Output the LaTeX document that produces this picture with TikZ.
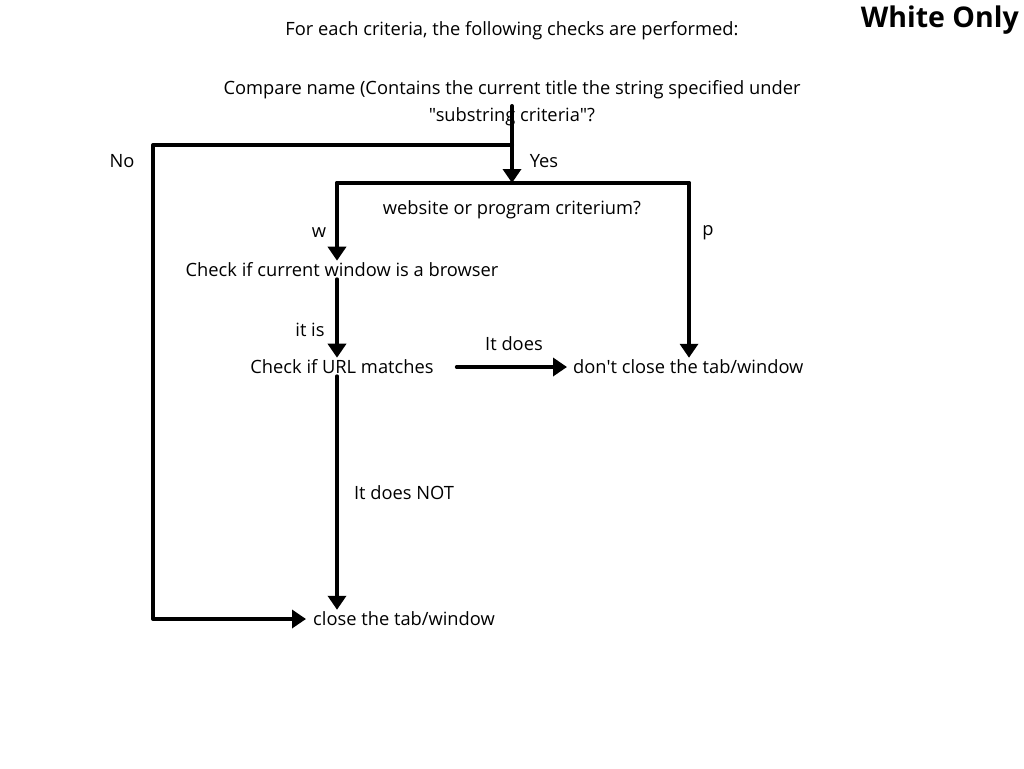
\documentclass[tikz,border=0pt]{standalone}
\usepackage{fontspec}
\setmainfont{Open Sans}[Ligatures=TeXOff]
\usetikzlibrary{arrows.meta,positioning,calc}

\tikzset{
  txt/.style={inner sep=2pt, yshift=-2pt, font=\fontsize{18.3}{21}\selectfont},
  flow/.style={line width=4pt, line cap=round, line join=round},
  arr/.style={flow, -{Triangle[length=14pt,width=18pt]}}
}

\begin{document}
\begin{tikzpicture}[x=1pt, y=-1pt]
  \useasboundingbox (0,0) rectangle (1024,768);

  % texts
  \node[txt] (intro) at (512,29) {For each criteria, the following checks are performed:};
  \node[font=\fontsize{28.5}{32}\bfseries\selectfont, anchor=east, inner sep=0pt] (white) at (1019,20) {White Only};
  \node[txt] (cmpa) at (512,88) {Compare name (Contains the current title the string specified under};
  \node[txt] (cmpb) at (512,115) {"substring criteria"?};
  \node[txt] (choice) at (512,208) {website or program criterium?};
  \node[txt] (browser) at (342,268) {Check if current window is a browser};
  \node[txt] (url) at (342,365) {Check if URL matches};
  \node[txt, anchor=west] (keep) at (571,365) {don't close the tab/window};
  \node[txt, anchor=west] (close) at (311,617) {close the tab/window};

  % branch labels
  \node[txt] (lno) at (122,159) {No};
  \node[txt] (lyes) at (544,159) {Yes};
  \node[txt] (lw) at (319,231) {w};
  \node[txt] (lp) at (708,231) {p};
  \node[txt] (lis) at (310,328) {it is};
  \node[txt] (ldoes) at (514,342) {It does};
  \node[txt] (lnot) at (404,491) {It does NOT};

  % junctions
  \coordinate (split) at (512,106);
  \coordinate (nojoint) at (512,145);
  \coordinate (nocorner) at (153,145);
  \coordinate (bar) at (512,183);
  \coordinate (wcorner) at (337,183);
  \coordinate (pcorner) at (689,183);

  % connectors
  \draw[arr] (split) -- (bar);
  \draw[arr, shorten >=5pt] (nojoint) -- (nocorner) |- (close.west);
  \draw[flow] (wcorner) -- (pcorner);
  \draw[arr] (wcorner) -- (wcorner |- browser.north);
  \draw[arr] (pcorner) -- (pcorner |- keep.north);
  \draw[arr] (browser.south -| wcorner) -- (url.north -| wcorner);
  \draw[arr, shorten <=21pt, shorten >=4pt] (url.east) -- (keep.west);
  \draw[arr] (url.south -| wcorner) -- (close.north -| wcorner);
\end{tikzpicture}
\end{document}
